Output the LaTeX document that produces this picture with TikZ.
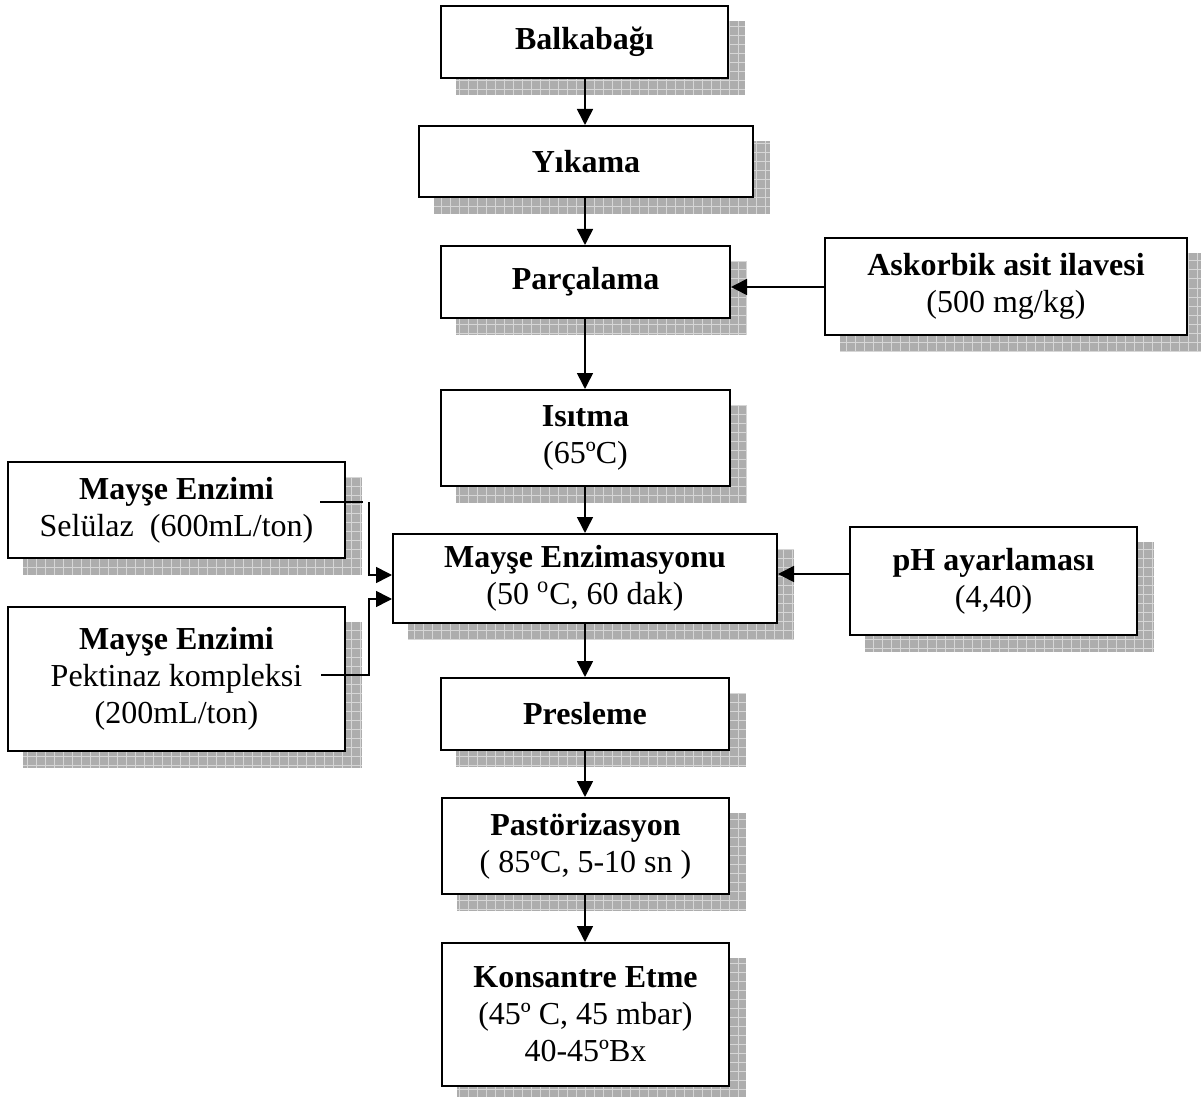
\documentclass[tikz,border=0pt]{standalone}
\usepackage{fontspec}
\setmainfont{Liberation Serif}
\usetikzlibrary{arrows.meta}
\pgfdeclarelayer{bg}
\pgfsetlayers{bg,main}
\tikzset{
  box/.style={draw=black, line width=1pt, fill=white, align=center, inner sep=0pt,
    font=\fontsize{16pt}{18.5pt}\selectfont},
  shadowbox/.style={fill=black!32, draw=none,
    path picture={\draw[black!16, line width=0.5pt]
      (path picture bounding box.south west) grid[step=4.5pt]
      (path picture bounding box.north east);}},
  conn/.style={line width=0.8pt},
  arr/.style={line width=0.8pt, -{Triangle[length=8pt,width=8pt]}}
}
\newcommand{\shad}[1]{\path[shadowbox] ([shift={(8pt,-8pt)}]#1.south west) rectangle ([shift={(8pt,-8pt)}]#1.north east);}
\begin{document}
\begin{tikzpicture}[x=0.5pt,y=-0.5pt]
\useasboundingbox (0,0) rectangle (1201,1097);
\node[box, minimum width=143.5pt, minimum height=36pt] (bal) at (584.5,42) {\textbf{Balkabağı}};
\node[box, minimum width=167pt, minimum height=35.5pt] (yik) at (586,161.5) {\textbf{Yıkama}};
\node[box, minimum width=144.5pt, minimum height=36pt] (par) at (585.5,282) {\textbf{Parçalama}};
\node[box, minimum width=181pt, minimum height=48.5pt] (ask) at (1006,286.5) {\textbf{Askorbik asit ilavesi}\\(500 mg/kg)};
\node[box, minimum width=144.5pt, minimum height=48pt] (isi) at (585.5,438) {\textbf{Isıtma}\\(65ºC)};
\node[box, minimum width=168.5pt, minimum height=48pt] (may1) at (176.5,510) {\textbf{Mayşe Enzimi}\\Selülaz\ \ (600mL/ton)};
\node[box, minimum width=192pt, minimum height=44.5pt] (enz) at (585,578.5) {\textbf{Mayşe Enzimasyonu}\\(50 \textsuperscript{o}C, 60 dak)};
\node[box, minimum width=143.5pt, minimum height=54pt] (ph) at (993.5,581) {\textbf{pH ayarlaması}\\(4,40)};
\node[box, minimum width=168.5pt, minimum height=72pt] (may2) at (176.5,679) {\textbf{Mayşe Enzimi}\\Pektinaz kompleksi\\(200mL/ton)};
\node[box, minimum width=144pt, minimum height=36pt] (pre) at (585,714) {\textbf{Presleme}};
\node[box, minimum width=143.5pt, minimum height=48pt] (pas) at (585.5,846) {\textbf{Pastörizasyon}\\( 85ºC, 5-10 sn )};
\node[box, minimum width=143.5pt, minimum height=71.5pt] (kon) at (585.5,1014.5) {\textbf{Konsantre Etme}\\(45º C, 45 mbar)\\40-45ºBx};
\begin{pgfonlayer}{bg}
\foreach \n in {bal,yik,par,ask,isi,may1,enz,ph,may2,pre,pas,kon}{\shad{\n}}
\end{pgfonlayer}
\coordinate (x) at (585,0);
\draw[arr] (x |- bal.south) -- (x |- yik.north);
\draw[arr] (x |- yik.south) -- (x |- par.north);
\draw[arr] (x |- par.south) -- (x |- isi.north);
\draw[arr] (x |- isi.south) -- (x |- enz.north);
\draw[arr] (x |- enz.south) -- (x |- pre.north);
\draw[arr] (x |- pre.south) -- (x |- pas.north);
\draw[arr] (x |- pas.south) -- (x |- kon.north);
\coordinate (asky) at (825,287);
\draw[arr] (ask.west |- asky) -- (par.east |- asky);
\coordinate (phy) at (850,574);
\draw[arr] (ph.west |- phy) -- (enz.east |- phy);
\coordinate (c1a) at (320,502);
\coordinate (c1b) at (363,502);
\coordinate (c1c) at (369,502);
\coordinate (c1d) at (369,575);
\draw[conn] (c1a) -- (c1b);
\draw[arr] (c1c) -- (c1d) -- (enz.west |- c1d);
\coordinate (c2a) at (321,675);
\coordinate (c2b) at (369,675);
\coordinate (c2c) at (369,599);
\draw[arr] (c2a) -- (c2b) -- (c2c) -- (enz.west |- c2c);
\end{tikzpicture}
\end{document}
